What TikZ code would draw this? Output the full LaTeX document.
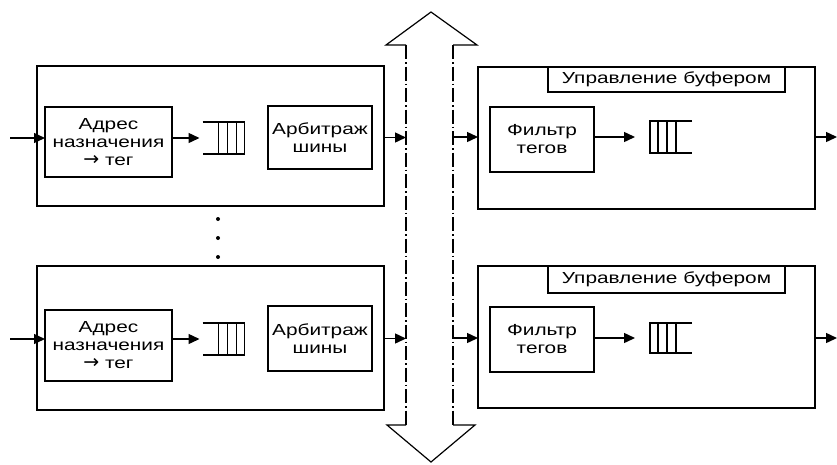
\documentclass[tikz,border=0pt]{standalone}
\usepackage{fontspec}
\newfontfamily\wfont[FakeStretch=1.3]{Liberation Sans}
\newfontfamily\arrfont{DejaVu Sans}
\newcommand{\tagarrow}{{\arrfont\fontsize{19}{18}\selectfont →}}
\usetikzlibrary{arrows.meta}
\begin{document}
\begin{tikzpicture}[x=1pt,y=-1pt,
  blk/.style={draw, line width=1.4pt, inner sep=0pt, outer sep=0pt},
  txt/.style={font=\wfont\fontsize{16}{18}\selectfont, align=center},
  qnode/.style={inner sep=0pt, outer sep=0pt, minimum width=42pt, minimum height=32pt},
  qline/.style={line width=1.4pt},
  arr/.style={line width=1.4pt, -{Triangle[length=11pt,width=10pt]}},
  busline/.style={line width=1.2pt, dash pattern=on 14pt off 3pt on 1.5pt off 3pt},
  headline/.style={line width=1.2pt, line join=miter}
]
\useasboundingbox (0,0) rectangle (837,464);

% ---------- bus (double arrow) ----------
\coordinate (bTL) at (406,45);
\coordinate (bTR) at (453,45);
\coordinate (bBL) at (406,425);
\coordinate (bBR) at (453,425);
\coordinate (bTip) at (431,12);
\coordinate (bBot) at (431,462);
\draw[headline] (bTL) -- (386,45) -- (bTip) -- (477,45) -- (bTR);
\draw[headline] (bBL) -- (387,425) -- (bBot) -- (475,425) -- (bBR);
\draw[busline] (bTL) -- (bBL);
\draw[busline] (bTR) -- (bBR);

% ---------- top left ----------
\node[blk, minimum width=347pt, minimum height=140pt] (L1) at (210.5,136) {};
\node[blk, txt, minimum width=127pt, minimum height=70pt] (D1) at (108.5,142)
  {Адрес\\назначения\\\tagarrow\ тег};
\node[qnode, minimum height=32pt] (Q1) at (223.5,138) {};
\node[blk, txt, minimum width=104pt, minimum height=63pt] (A1) at (320,137.5)
  {Арбитраж\\шины};

% ---------- bottom left ----------
\node[blk, minimum width=347pt, minimum height=144pt] (L2) at (210.5,338) {};
\node[blk, txt, minimum width=127pt, minimum height=71pt] (D2) at (108.5,345.5)
  {Адрес\\назначения\\\tagarrow\ тег};
\node[qnode] (Q2) at (223.5,339) {};
\node[blk, txt, minimum width=104pt, minimum height=65pt] (A2) at (320,338.5)
  {Арбитраж\\шины};

% left queues (open on the left)
\foreach \q in {Q1,Q2}{
  \draw[qline] (\q.north west) -- (\q.north east) -- (\q.south east) -- (\q.south west);
  \foreach \d in {8,17,26}{
    \draw[qline] ([xshift=-\d pt]\q.north east) -- ([xshift=-\d pt]\q.south east);
  }
}

% ---------- top right ----------
\node[blk, minimum width=337pt, minimum height=142pt] (R1) at (646.5,138) {};
\node[blk, txt, minimum width=237pt, minimum height=25pt] (U1) at (666.5,79.5)
  {Управление буфером};
\node[blk, txt, minimum width=104pt, minimum height=65pt] (F1) at (542,139.5)
  {Фильтр\\тегов};
\node[qnode] (Q3) at (671,137) {};

% ---------- bottom right ----------
\node[blk, minimum width=337pt, minimum height=142pt] (R2) at (646.5,337) {};
\node[blk, txt, minimum width=237pt, minimum height=27pt] (U2) at (666.5,279.5)
  {Управление буфером};
\node[blk, txt, minimum width=104pt, minimum height=65pt] (F2) at (542,339.5)
  {Фильтр\\тегов};
\node[qnode, minimum height=30pt] (Q4) at (671,338) {};

% right queues (open on the right)
\foreach \q in {Q3,Q4}{
  \draw[qline] (\q.north east) -- (\q.north west) -- (\q.south west) -- (\q.south east);
  \foreach \d in {8,17,26}{
    \draw[qline] ([xshift=\d pt]\q.north west) -- ([xshift=\d pt]\q.south west);
  }
}

% ---------- ellipsis ----------
\fill (218,219) circle (2pt);
\fill (218,238) circle (2pt);
\fill (218,257) circle (2pt);

% ---------- connectors ----------
\coordinate (in1) at (10,138);
\coordinate (in2) at (10,339);
\coordinate (outR) at (837,0);

\draw[arr] (in1) -- (in1 -| D1.west);
\draw[arr] (D1.east |- Q1.west) -- ([xshift=-3pt]Q1.west);
\draw[arr] (L1.east |- A1.east) -- (bTL |- A1.east);

\draw[arr] (in2) -- (in2 -| D2.west);
\draw[arr] (D2.east |- Q2.west) -- ([xshift=-3pt]Q2.west);
\draw[arr] (L2.east |- A2.east) -- (bTL |- A2.east);

\draw[arr] (bTR |- Q3.west) -- (R1.west |- Q3.west);
\draw[arr] (F1.east |- Q3.west) -- ([xshift=-15pt]Q3.west);
\draw[arr] (R1.east |- Q3.west) -- (outR |- Q3.west);

\draw[arr] (bTR |- Q4.west) -- (R2.west |- Q4.west);
\draw[arr] (F2.east |- Q4.west) -- ([xshift=-15pt]Q4.west);
\draw[arr] (R2.east |- Q4.west) -- (outR |- Q4.west);
\end{tikzpicture}
\end{document}
